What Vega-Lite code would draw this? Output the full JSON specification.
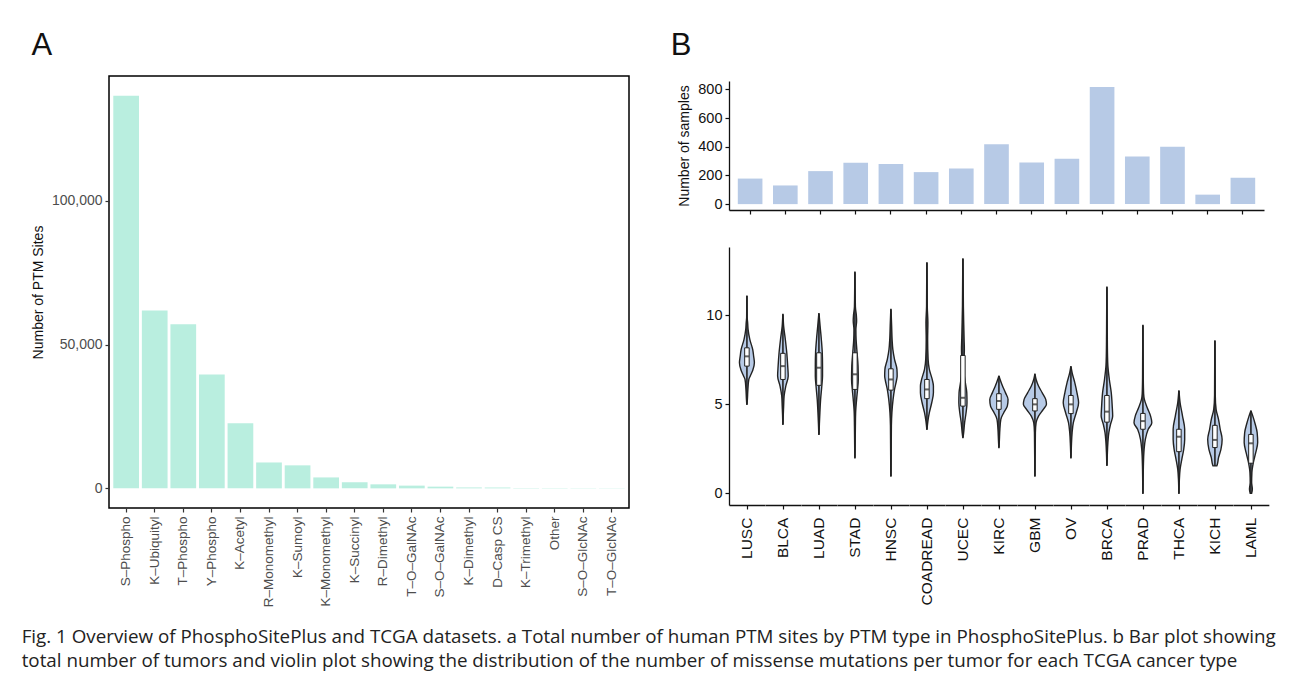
{
  "$schema": "https://vega.github.io/schema/vega-lite/v6.json",
  "padding": {"left": 21, "top": 29, "right": 10, "bottom": 5},
  "background": "white",
  "align": "none",
  "config": {
    "font": "Liberation Sans",
    "view": {"stroke": null},
    "axis": {"labelFont": "Liberation Sans", "titleFont": "Liberation Sans", "titleFontWeight": "normal", "labelFontSize": 14, "titleFontSize": 14, "labelColor": "#111", "titleColor": "#111", "grid": false, "tickColor": "#111", "domainColor": "#111", "tickSize": 4, "domainWidth": 1.3, "tickWidth": 1.2},
    "title": {"fontWeight": "normal", "font": "Liberation Sans", "color": "#111"}
  },
  "title": {
    "text": ["Fig. 1 Overview of PhosphoSitePlus and TCGA datasets. a Total number of human PTM sites by PTM type in PhosphoSitePlus. b Bar plot showing", "total number of tumors and violin plot showing the distribution of the number of missense mutations per tumor for each TCGA cancer type"],
    "orient": "bottom", "anchor": "start", "frame": "bounds", "font": "Open Sans", "fontSize": 18.8, "fontWeight": "normal", "lineHeight": 24, "color": "#222", "offset": 20, "dx": -9
  },
  "hconcat": [
    {
      "width": 520,
      "height": 432,
      "title": {"text": "A", "anchor": "start", "frame": "bounds", "fontSize": 31, "offset": 14},
      "view": {"stroke": "black", "strokeWidth": 1.5},
      "data": {"values": [
        {"ptm": "S–Phospho", "n": 136500},
        {"ptm": "K–Ubiquityl", "n": 61800},
        {"ptm": "T–Phospho", "n": 57000},
        {"ptm": "Y–Phospho", "n": 39600},
        {"ptm": "K–Acetyl", "n": 22600},
        {"ptm": "R–Monomethyl", "n": 9000},
        {"ptm": "K–Sumoyl", "n": 8000},
        {"ptm": "K–Monomethyl", "n": 3800},
        {"ptm": "K–Succinyl", "n": 2100},
        {"ptm": "R–Dimethyl", "n": 1400},
        {"ptm": "T–O–GalNAc", "n": 950},
        {"ptm": "S–O–GalNAc", "n": 600},
        {"ptm": "K–Dimethyl", "n": 320},
        {"ptm": "D–Casp CS", "n": 300},
        {"ptm": "K–Trimethyl", "n": 120},
        {"ptm": "Other", "n": 110},
        {"ptm": "S–O–GlcNAc", "n": 90},
        {"ptm": "T–O–GlcNAc", "n": 80}
      ]},
      "mark": {"type": "bar", "color": "#b9eedf"},
      "encoding": {
        "x": {"field": "ptm", "type": "nominal", "sort": null,
          "scale": {"paddingInner": 0.1, "paddingOuter": 0.15},
          "axis": {"title": null, "labelAngle": -90, "labelAlign": "right", "labelBaseline": "middle", "labelColor": "#4d4d4d", "labelFontSize": 13.5, "domain": false, "tickColor": "#333", "labelPadding": 4}},
        "y": {"field": "n", "type": "quantitative",
          "scale": {"domain": [-6825, 143325], "nice": false, "zero": false},
          "axis": {"values": [0, 50000, 100000], "format": ",.0f", "title": "Number of PTM Sites", "domain": false, "labelColor": "#4d4d4d", "tickColor": "#333", "labelPadding": 3, "titlePadding": 6}},
        "y2": {"datum": 0}
      }
    },
    {
      "title": {"text": "B", "anchor": "start", "frame": "bounds", "fontSize": 31, "offset": 14, "dx": -7},
      "bounds": "flush",
      "spacing": 37,
      "vconcat": [
        {
          "width": 535,
          "height": 134,
          "data": {"values": [
            {"t": "LUSC", "n": 178}, {"t": "BLCA", "n": 130}, {"t": "LUAD", "n": 230},
            {"t": "STAD", "n": 289}, {"t": "HNSC", "n": 279}, {"t": "COADREAD", "n": 223},
            {"t": "UCEC", "n": 248}, {"t": "KIRC", "n": 417}, {"t": "GBM", "n": 290},
            {"t": "OV", "n": 316}, {"t": "BRCA", "n": 817}, {"t": "PRAD", "n": 332},
            {"t": "THCA", "n": 399}, {"t": "KICH", "n": 66}, {"t": "LAML", "n": 184}
          ]},
          "mark": {"type": "bar", "color": "#b7cae6"},
          "encoding": {
            "x": {"field": "t", "type": "nominal", "sort": null,
              "scale": {"paddingInner": 0.3, "paddingOuter": 0.25},
              "axis": {"labels": false, "title": null}},
            "y": {"field": "n", "type": "quantitative",
              "scale": {"domain": [-41, 858], "range": [134, 5], "nice": false, "zero": false},
              "axis": {"values": [0, 200, 400, 600, 800], "title": "Number of samples", "labelPadding": 3, "titlePadding": 6, "labelFontSize": 14.5}},
            "y2": {"datum": 0}
          }
        },
        {
          "data": {"values": [
            {"t": "LUSC", "v": 11.09, "w": 0.3}, {"t": "LUSC", "v": 9.9, "w": 0.7}, {"t": "LUSC", "v": 9.6, "w": 2}, {"t": "LUSC", "v": 9.2, "w": 3.3}, {"t": "LUSC", "v": 8.65, "w": 8}, {"t": "LUSC", "v": 8.09, "w": 16}, {"t": "LUSC", "v": 7.7, "w": 18.7}, {"t": "LUSC", "v": 7.34, "w": 20.7}, {"t": "LUSC", "v": 6.9, "w": 16}, {"t": "LUSC", "v": 6.6, "w": 9.3}, {"t": "LUSC", "v": 6.4, "w": 5.3}, {"t": "LUSC", "v": 5.84, "w": 2.7}, {"t": "LUSC", "v": 5.28, "w": 1.3}, {"t": "LUSC", "v": 5.0, "w": 0.3},
            {"t": "BLCA", "v": 10.06, "w": 0.3}, {"t": "BLCA", "v": 9.4, "w": 2}, {"t": "BLCA", "v": 8.65, "w": 6.7}, {"t": "BLCA", "v": 7.9, "w": 10.7}, {"t": "BLCA", "v": 7.15, "w": 13.3}, {"t": "BLCA", "v": 6.6, "w": 14.7}, {"t": "BLCA", "v": 6.03, "w": 8}, {"t": "BLCA", "v": 5.47, "w": 3.3}, {"t": "BLCA", "v": 4.9, "w": 2}, {"t": "BLCA", "v": 4.4, "w": 1}, {"t": "BLCA", "v": 3.88, "w": 0.3},
            {"t": "LUAD", "v": 10.1, "w": 0.3}, {"t": "LUAD", "v": 9.4, "w": 3.3}, {"t": "LUAD", "v": 8.65, "w": 6.7}, {"t": "LUAD", "v": 7.9, "w": 9.3}, {"t": "LUAD", "v": 7.15, "w": 10}, {"t": "LUAD", "v": 6.6, "w": 10}, {"t": "LUAD", "v": 6.03, "w": 8}, {"t": "LUAD", "v": 5.28, "w": 4.7}, {"t": "LUAD", "v": 4.53, "w": 2.7}, {"t": "LUAD", "v": 3.9, "w": 1.3}, {"t": "LUAD", "v": 3.31, "w": 0.3},
            {"t": "STAD", "v": 12.43, "w": 0.3}, {"t": "STAD", "v": 10.5, "w": 1.3}, {"t": "STAD", "v": 10.0, "w": 4}, {"t": "STAD", "v": 9.7, "w": 4.7}, {"t": "STAD", "v": 9.2, "w": 2.7}, {"t": "STAD", "v": 8.65, "w": 3.3}, {"t": "STAD", "v": 7.9, "w": 6}, {"t": "STAD", "v": 7.15, "w": 8.7}, {"t": "STAD", "v": 6.4, "w": 9.3}, {"t": "STAD", "v": 5.84, "w": 7.3}, {"t": "STAD", "v": 5.28, "w": 4.7}, {"t": "STAD", "v": 4.53, "w": 2}, {"t": "STAD", "v": 3.78, "w": 1.3}, {"t": "STAD", "v": 2.0, "w": 0.3},
            {"t": "HNSC", "v": 10.34, "w": 0.3}, {"t": "HNSC", "v": 9.4, "w": 2}, {"t": "HNSC", "v": 8.65, "w": 3.3}, {"t": "HNSC", "v": 8.09, "w": 5.3}, {"t": "HNSC", "v": 7.53, "w": 10}, {"t": "HNSC", "v": 6.97, "w": 16.7}, {"t": "HNSC", "v": 6.6, "w": 17.3}, {"t": "HNSC", "v": 6.4, "w": 16}, {"t": "HNSC", "v": 5.84, "w": 10}, {"t": "HNSC", "v": 5.28, "w": 6}, {"t": "HNSC", "v": 4.53, "w": 2.7}, {"t": "HNSC", "v": 3.78, "w": 1.3}, {"t": "HNSC", "v": 0.97, "w": 0.3},
            {"t": "COADREAD", "v": 12.96, "w": 0.3}, {"t": "COADREAD", "v": 10.5, "w": 1}, {"t": "COADREAD", "v": 9.6, "w": 2.7}, {"t": "COADREAD", "v": 8.65, "w": 2}, {"t": "COADREAD", "v": 7.53, "w": 3.3}, {"t": "COADREAD", "v": 6.97, "w": 6.7}, {"t": "COADREAD", "v": 6.4, "w": 14.7}, {"t": "COADREAD", "v": 6.03, "w": 18}, {"t": "COADREAD", "v": 5.66, "w": 18}, {"t": "COADREAD", "v": 5.09, "w": 13.3}, {"t": "COADREAD", "v": 4.53, "w": 6.7}, {"t": "COADREAD", "v": 4.06, "w": 2.7}, {"t": "COADREAD", "v": 3.6, "w": 0.3},
            {"t": "UCEC", "v": 13.18, "w": 0.3}, {"t": "UCEC", "v": 10.5, "w": 1.3}, {"t": "UCEC", "v": 9.5, "w": 2.3}, {"t": "UCEC", "v": 8.65, "w": 3.3}, {"t": "UCEC", "v": 8.09, "w": 4}, {"t": "UCEC", "v": 7.53, "w": 3.3}, {"t": "UCEC", "v": 6.78, "w": 3.3}, {"t": "UCEC", "v": 6.22, "w": 6.7}, {"t": "UCEC", "v": 5.66, "w": 10.7}, {"t": "UCEC", "v": 5.09, "w": 11.3}, {"t": "UCEC", "v": 4.53, "w": 8.7}, {"t": "UCEC", "v": 3.97, "w": 4.7}, {"t": "UCEC", "v": 3.4, "w": 2}, {"t": "UCEC", "v": 3.13, "w": 0.3},
            {"t": "KIRC", "v": 6.59, "w": 0.3}, {"t": "KIRC", "v": 6.4, "w": 3.3}, {"t": "KIRC", "v": 6.03, "w": 10}, {"t": "KIRC", "v": 5.66, "w": 18}, {"t": "KIRC", "v": 5.28, "w": 25.3}, {"t": "KIRC", "v": 4.9, "w": 23.3}, {"t": "KIRC", "v": 4.53, "w": 13.3}, {"t": "KIRC", "v": 4.16, "w": 5.3}, {"t": "KIRC", "v": 3.6, "w": 2.7}, {"t": "KIRC", "v": 3.0, "w": 1.3}, {"t": "KIRC", "v": 2.57, "w": 0.3},
            {"t": "GBM", "v": 6.69, "w": 0.3}, {"t": "GBM", "v": 6.4, "w": 3.3}, {"t": "GBM", "v": 6.03, "w": 10}, {"t": "GBM", "v": 5.66, "w": 20}, {"t": "GBM", "v": 5.28, "w": 30}, {"t": "GBM", "v": 5.0, "w": 32}, {"t": "GBM", "v": 4.72, "w": 23.3}, {"t": "GBM", "v": 4.34, "w": 10}, {"t": "GBM", "v": 3.97, "w": 3.3}, {"t": "GBM", "v": 3.41, "w": 1.3}, {"t": "GBM", "v": 0.97, "w": 0.3},
            {"t": "OV", "v": 7.12, "w": 0.3}, {"t": "OV", "v": 6.78, "w": 3.3}, {"t": "OV", "v": 6.22, "w": 10.7}, {"t": "OV", "v": 5.66, "w": 16.7}, {"t": "OV", "v": 5.09, "w": 21.3}, {"t": "OV", "v": 4.53, "w": 14.7}, {"t": "OV", "v": 3.97, "w": 6.7}, {"t": "OV", "v": 3.41, "w": 3.3}, {"t": "OV", "v": 2.66, "w": 1.3}, {"t": "OV", "v": 2.0, "w": 0.3},
            {"t": "BRCA", "v": 11.59, "w": 0.3}, {"t": "BRCA", "v": 9.0, "w": 1}, {"t": "BRCA", "v": 7.7, "w": 1.7}, {"t": "BRCA", "v": 7.15, "w": 2.7}, {"t": "BRCA", "v": 6.4, "w": 6.7}, {"t": "BRCA", "v": 5.66, "w": 12}, {"t": "BRCA", "v": 4.9, "w": 14.7}, {"t": "BRCA", "v": 4.34, "w": 16}, {"t": "BRCA", "v": 3.88, "w": 10}, {"t": "BRCA", "v": 3.41, "w": 5.3}, {"t": "BRCA", "v": 2.85, "w": 2.7}, {"t": "BRCA", "v": 2.28, "w": 1.3}, {"t": "BRCA", "v": 1.57, "w": 0.3},
            {"t": "PRAD", "v": 9.44, "w": 0.3}, {"t": "PRAD", "v": 6.5, "w": 1}, {"t": "PRAD", "v": 5.6, "w": 2}, {"t": "PRAD", "v": 5.28, "w": 4}, {"t": "PRAD", "v": 4.81, "w": 12}, {"t": "PRAD", "v": 4.34, "w": 21.3}, {"t": "PRAD", "v": 3.97, "w": 24.7}, {"t": "PRAD", "v": 3.6, "w": 14.7}, {"t": "PRAD", "v": 3.03, "w": 6.7}, {"t": "PRAD", "v": 2.47, "w": 3.3}, {"t": "PRAD", "v": 1.54, "w": 1.3}, {"t": "PRAD", "v": 0.0, "w": 0.3},
            {"t": "THCA", "v": 5.75, "w": 0.3}, {"t": "THCA", "v": 5.09, "w": 3.3}, {"t": "THCA", "v": 4.34, "w": 10}, {"t": "THCA", "v": 3.6, "w": 16}, {"t": "THCA", "v": 3.03, "w": 16}, {"t": "THCA", "v": 2.47, "w": 13.3}, {"t": "THCA", "v": 1.91, "w": 8}, {"t": "THCA", "v": 1.35, "w": 3.3}, {"t": "THCA", "v": 0.79, "w": 1.3}, {"t": "THCA", "v": 0.0, "w": 0.3},
            {"t": "KICH", "v": 8.56, "w": 0.3}, {"t": "KICH", "v": 5.5, "w": 1}, {"t": "KICH", "v": 4.72, "w": 3.3}, {"t": "KICH", "v": 4.16, "w": 10}, {"t": "KICH", "v": 3.6, "w": 14.7}, {"t": "KICH", "v": 3.03, "w": 20}, {"t": "KICH", "v": 2.47, "w": 16.7}, {"t": "KICH", "v": 2.0, "w": 10}, {"t": "KICH", "v": 1.63, "w": 6.7}, {"t": "KICH", "v": 1.54, "w": 5.3},
            {"t": "LAML", "v": 4.63, "w": 0.3}, {"t": "LAML", "v": 4.34, "w": 5.3}, {"t": "LAML", "v": 3.88, "w": 12}, {"t": "LAML", "v": 3.41, "w": 17.3}, {"t": "LAML", "v": 2.85, "w": 18.7}, {"t": "LAML", "v": 2.28, "w": 13.3}, {"t": "LAML", "v": 1.72, "w": 6.7}, {"t": "LAML", "v": 1.16, "w": 2.7}, {"t": "LAML", "v": 0.6, "w": 2}, {"t": "LAML", "v": 0.22, "w": 4}, {"t": "LAML", "v": 0.0, "w": 2},
            {"t": "LUSC", "q1": 7.15, "med": 7.7, "q3": 8.18, "lo": 5.0, "hi": 11.09},
            {"t": "BLCA", "q1": 6.4, "med": 7.15, "q3": 7.87, "lo": 3.88, "hi": 10.06},
            {"t": "LUAD", "q1": 6.07, "med": 7.06, "q3": 7.9, "lo": 3.31, "hi": 10.1},
            {"t": "STAD", "q1": 5.84, "med": 6.69, "q3": 7.9, "lo": 2.0, "hi": 12.43},
            {"t": "HNSC", "q1": 5.8, "med": 6.4, "q3": 7.0, "lo": 0.97, "hi": 10.34},
            {"t": "COADREAD", "q1": 5.32, "med": 5.84, "q3": 6.4, "lo": 3.6, "hi": 12.96},
            {"t": "UCEC", "q1": 4.9, "med": 5.37, "q3": 7.75, "lo": 3.13, "hi": 13.18},
            {"t": "KIRC", "q1": 4.72, "med": 5.19, "q3": 5.6, "lo": 2.57, "hi": 6.59},
            {"t": "GBM", "q1": 4.63, "med": 5.0, "q3": 5.32, "lo": 0.97, "hi": 6.69},
            {"t": "OV", "q1": 4.48, "med": 5.0, "q3": 5.5, "lo": 2.0, "hi": 7.12},
            {"t": "BRCA", "q1": 4.0, "med": 4.59, "q3": 5.5, "lo": 1.57, "hi": 11.59},
            {"t": "PRAD", "q1": 3.6, "med": 4.06, "q3": 4.49, "lo": 0.0, "hi": 9.44},
            {"t": "THCA", "q1": 2.34, "med": 3.18, "q3": 3.6, "lo": 0.0, "hi": 5.75},
            {"t": "KICH", "q1": 2.57, "med": 3.0, "q3": 3.82, "lo": 1.54, "hi": 8.56},
            {"t": "LAML", "q1": 1.69, "med": 2.81, "q3": 3.31, "lo": 0.0, "hi": 4.63}
          ]},
          "transform": [
            {"stack": "w", "groupby": ["t", "v"], "offset": "center", "as": ["w0", "w1"]}
          ],
          "spacing": 0,
          "facet": {
            "column": {"field": "t", "type": "nominal",
              "sort": ["LUSC", "BLCA", "LUAD", "STAD", "HNSC", "COADREAD", "UCEC", "KIRC", "GBM", "OV", "BRCA", "PRAD", "THCA", "KICH", "LAML"],
              "header": {"title": null, "labelOrient": "bottom", "labelAngle": -90, "labelAlign": "right", "labelBaseline": "middle", "labelFont": "Liberation Sans", "labelFontSize": 15.5, "labelColor": "#111", "labelPadding": 8}}
          },
          "spec": {
            "width": 35.84,
            "height": 258,
            "layer": [
              {
                "transform": [{"filter": "isValid(datum.w)"}],
                "mark": {"type": "area", "orient": "horizontal", "color": "#b7cae6", "stroke": "#222", "strokeWidth": 1.4, "interpolate": "monotone"},
                "encoding": {
                  "x": {"field": "w0", "type": "quantitative", "title": null,
                    "scale": {"domain": [-1.92, 33.92], "nice": false, "zero": false},
                    "axis": {"labels": false, "values": [16], "ticks": true, "domain": true, "title": null}},
                  "x2": {"field": "w1"},
                  "y": {"field": "v", "type": "quantitative",
                    "scale": {"domain": [-0.66, 13.85], "nice": false, "zero": false},
                    "axis": {"values": [0, 5, 10], "title": "log2(Number of missense mutations per sample)", "labelPadding": 3, "titlePadding": 6, "labelFontSize": 14.5}}
                }
              },
              {
                "transform": [{"filter": "isValid(datum.q1)"}],
                "mark": {"type": "rule", "color": "#222", "strokeWidth": 1.6},
                "encoding": {
                  "x": {"datum": 16, "type": "quantitative", "title": null},
                  "y": {"field": "lo", "type": "quantitative", "title": null},
                  "y2": {"field": "hi"}
                }
              },
              {
                "transform": [{"filter": "isValid(datum.q1)"}],
                "mark": {"type": "bar", "width": 4.5, "color": "white", "stroke": "#222", "strokeWidth": 1},
                "encoding": {
                  "x": {"datum": 16, "type": "quantitative", "title": null},
                  "y": {"field": "q1", "type": "quantitative", "title": null},
                  "y2": {"field": "q3"}
                }
              },
              {
                "transform": [{"filter": "isValid(datum.q1)"}],
                "mark": {"type": "tick", "orient": "horizontal", "color": "#222", "size": 4, "thickness": 2},
                "encoding": {
                  "x": {"datum": 16, "type": "quantitative", "title": null},
                  "y": {"field": "med", "type": "quantitative", "title": null}
                }
              }
            ]
          }
        }
      ]
    }
  ],
  "spacing": 40
}
